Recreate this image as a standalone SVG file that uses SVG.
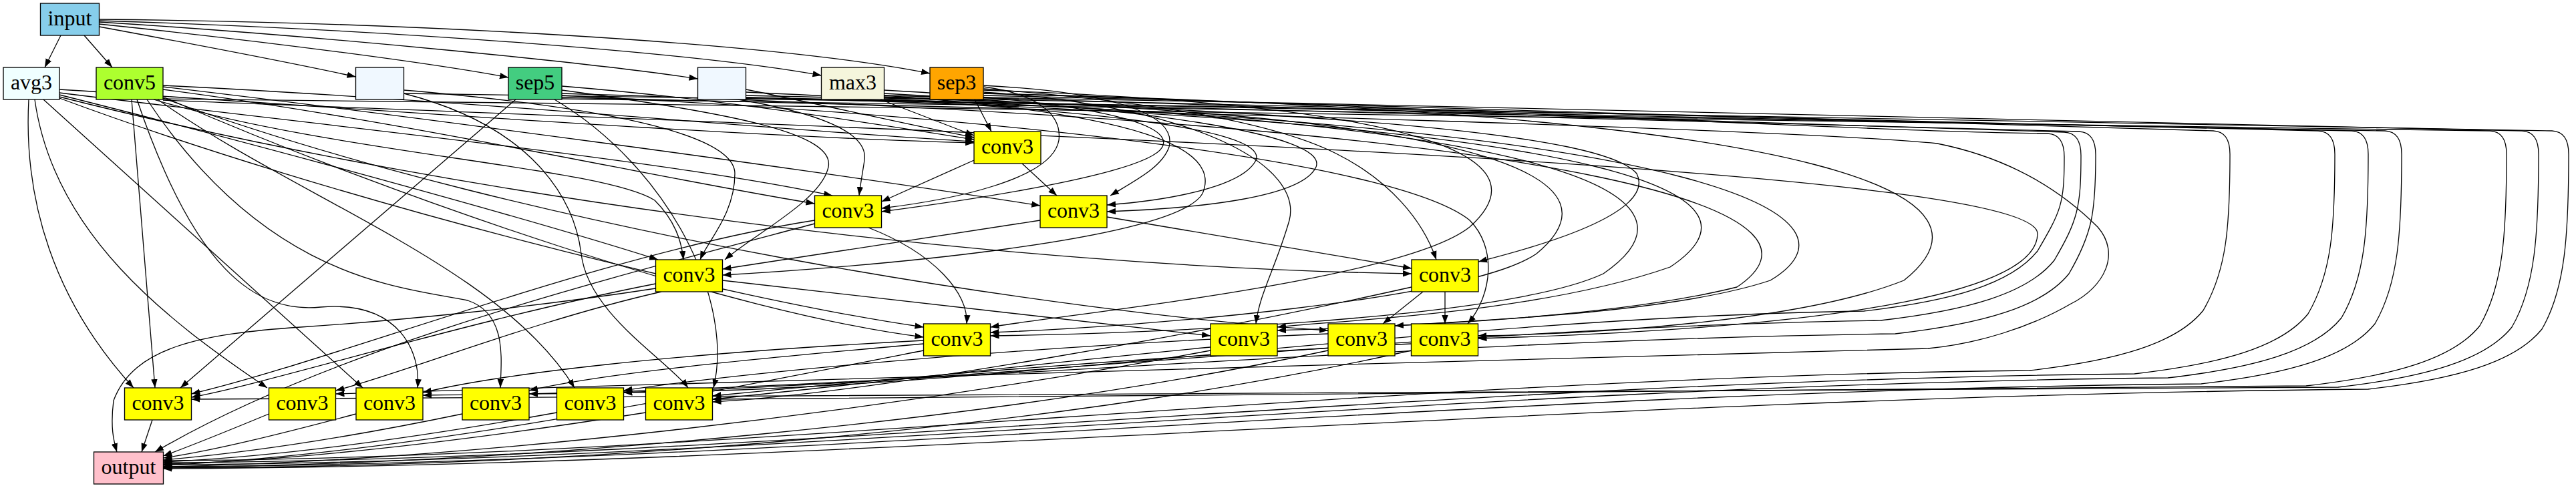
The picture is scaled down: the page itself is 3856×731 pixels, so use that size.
<svg xmlns="http://www.w3.org/2000/svg" width="3856" height="731" viewBox="0 0 3856 731">
<defs>
<marker id="arr" markerWidth="14" markerHeight="10" refX="13" refY="5" orient="auto" markerUnits="userSpaceOnUse"><path d="M0,0.3 L13,5 L0,9.7 z" fill="#000"/></marker>
<style>
.e path{fill:none;stroke:#000;stroke-width:1.3;marker-end:url(#arr)}
.n rect{stroke:#000;stroke-width:1.33}
.n text{font-family:"Liberation Serif","Times New Roman",serif;font-size:32px;text-anchor:middle;fill:#000}
</style>
</defs>
<rect width="3856" height="731" fill="#fff"/>
<g id="edges" class="e">
<path d="M91,53 L67,101"/>
<path d="M126,53 L168,101"/>
<path d="M148.5,40 C300,68 450,97 532.5,115"/>
<path d="M148.5,36 C400,62 650,95 761,116"/>
<path d="M148.5,33 C500,55 900,96 1044.5,118"/>
<path d="M148.5,31 C600,45 1050,80 1229.5,113"/>
<path d="M148.5,29 C600,33 1150,62 1392,110"/>
<path d="M1459,149 L1484,197"/>
<path d="M1318,149 L1458,203"/>
<path d="M1116.5,134 C1200,150 1350,185 1458,206"/>
<path d="M841,129 C1100,150 1350,192 1458,209"/>
<path d="M244,128 C700,150 1200,198 1458,212"/>
<path d="M89,134 C500,160 1100,205 1458,214"/>
<path d="M89,139 C500,190 1000,240 1246,293"/>
<path d="M1105,149 C1230,170 1300,200 1294,240 C1291,260 1288,275 1286,293"/>
<path d="M1458,240 L1319.5,302"/>
<path d="M1472.5,130 C1550,140 1590,170 1585,210 C1575,270 1420,300 1319.5,312"/>
<path d="M1323.5,135 C1600,150 1760,180 1740,220 C1720,260 1450,300 1319.5,317"/>
<path d="M244,134 C600,180 1000,270 1219.5,305"/>
<path d="M1530,245 L1582,293"/>
<path d="M244,130 C600,172 1200,252 1557,308"/>
<path d="M1472.5,128 C1700,140 1760,180 1750,220 C1740,250 1700,270 1662,293"/>
<path d="M1116.5,138 C1600,160 1900,190 1880,240 C1860,280 1750,300 1657,307"/>
<path d="M1323.5,140 C1700,160 1990,200 1970,250 C1950,295 1800,312 1657,317"/>
<path d="M89,142 C400,220 800,330 985,389"/>
<path d="M230,149 C500,230 900,250 980,300 C1010,330 1020,360 1023,389"/>
<path d="M604.5,135 C900,160 1100,200 1100,260 C1100,320 1060,360 1048,389"/>
<path d="M841,135 C1100,170 1250,200 1240,250 C1230,300 1130,350 1085,389"/>
<path d="M1557,330 L1081.5,403"/>
<path d="M1323.5,143 C1700,170 1830,220 1800,290 C1760,360 1300,400 1081.5,412"/>
<path d="M1657,325 L2113,402"/>
<path d="M89,145 C700,300 1500,400 2113,410"/>
<path d="M1472.5,133 C1700,150 1900,180 2000,230 C2080,270 2130,330 2150,389"/>
<path d="M1323.5,145 C2000,170 2400,200 2450,260 C2480,320 2300,370 2213,392"/>
<path d="M89,147 C500,300 1100,450 1382.5,490"/>
<path d="M244,145 C600,300 1100,470 1382.5,505"/>
<path d="M1300,341 C1400,380 1450,440 1447,485"/>
<path d="M1472.5,135 C2200,160 2300,250 2200,340 C2100,420 1600,470 1482.5,490"/>
<path d="M1323.5,147 C2300,170 2420,280 2300,380 C2200,450 1700,490 1482.5,498"/>
<path d="M1116.5,143 C2400,170 2560,300 2400,410 C2250,480 1700,500 1482.5,503"/>
<path d="M1081.5,420 L1812,503"/>
<path d="M1472.5,138 C1800,160 1950,250 1930,330 C1910,400 1885,440 1880,485"/>
<path d="M1116.5,146 C2500,180 2650,300 2500,400 C2300,470 2000,480 1912,490"/>
<path d="M841,140 C2500,190 2750,330 2600,430 C2400,480 2050,490 1912,495"/>
<path d="M2130,437 L2070,485"/>
<path d="M1323.5,150 C2600,190 2800,330 2650,420 C2500,470 2200,480 2088,488"/>
<path d="M244,147 C800,350 1600,470 1988,495"/>
<path d="M2163,437 L2163,485"/>
<path d="M841,143 C1600,180 2100,250 2200,330 C2240,370 2235,440 2197,485"/>
<path d="M1472.5,140 C2800,170 3000,300 2850,420 C2700,480 2400,500 2212.5,503"/>
<path d="M244,150 C1500,200 3050,250 3050,350 C3050,430 2800,490 2212.5,507"/>
<path d="M43,149 C35,300 80,450 200,581"/>
<path d="M197,149 L232,581"/>
<path d="M772,149 L270,581"/>
<path d="M1219.5,330 C900,380 500,540 286.5,590"/>
<path d="M981.5,425 C700,480 400,575 286.5,595"/>
<path d="M52,149 C80,350 250,480 400,581"/>
<path d="M990,437 C800,480 600,560 502.5,585"/>
<path d="M65,149 L543,581"/>
<path d="M205,149 C290,400 380,470 480,460 C600,450 630,530 625,581"/>
<path d="M1382.5,510 C1000,530 750,560 633,588"/>
<path d="M220,149 C400,420 600,430 700,450 C760,470 750,540 749,581"/>
<path d="M1382.5,515 C1100,540 900,560 792,585"/>
<path d="M236,149 C450,300 750,400 860,581"/>
<path d="M1988,500 C1500,520 1100,560 933.5,585"/>
<path d="M830,149 C1000,250 1100,450 1068,581"/>
<path d="M2112.5,515 C1600,540 1200,580 1066.5,593"/>
<path d="M1812,520 C1500,550 1200,585 1066.5,598"/>
<path d="M2113,430 C1800,500 1300,590 1066.5,602"/>
<path d="M604.5,140 C800,190 860,300 870,380 C880,470 1000,540 1030,581"/>
<path d="M228,629 L212,677"/>
<path d="M981.5,432 C800,460 600,480 450,490 C300,500 200,520 170,600 C165,640 170,660 175,677"/>
<path d="M1219.5,335 C900,420 500,520 232,677"/>
<path d="M402.5,620 C330,650 280,670 244.5,683"/>
<path d="M533,620 C420,650 320,675 244.5,686"/>
<path d="M692,620 C500,660 350,680 244.5,689"/>
<path d="M833.5,618 C600,660 400,685 244.5,692"/>
<path d="M966.5,618 C700,660 450,690 244.5,695"/>
<path d="M1382.5,525 C1000,600 600,680 244.5,697"/>
<path d="M1812,525 C1300,620 700,690 244.5,699"/>
<path d="M1988,525 C1500,630 800,695 244.5,700"/>
<path d="M2112.5,525 C1600,640 900,700 244.5,701"/>
<path d="M1472.5,140 C2119.5,158 2790,197 3065,200 C3082,201 3090,212 3090,235 C3090,306 3085,316 3050,376 C3010,426 2920,451 2790,466 C2140,476 1490.5,585 933.5,588"/>
<path d="M1323.5,143 C2040,160 2815,195 3090,198 C3107,199 3115,210 3115,233 C3115,311 3110,330 3075,390 C3035,440 2945,465 2815,480 C2107,490 1399,587 792,590"/>
<path d="M1116.5,146 C1924.5,161 2837,194 3112,197 C3129,198 3137,209 3137,232 C3137,318 3132,350 3097,410 C3057,460 2967,485 2837,500 C2066,510 1294,589 633,592"/>
<path d="M841,146 C1800,168 2700,195 2900,215 C3000,235 3080,280 3140,340 C3175,380 3150,430 3100,455 C3040,490 2960,515 2886,522 C2100,540 1000,580 502.5,590"/>
<path d="M1472.5,143 C2218.7,159 3038,193 3313,196 C3330,197 3338,208 3338,231 C3338,339.6 3333,405 3298,465 C3258,515 3168,540 3038,555 C2060,565 1082.5,687 244.5,690"/>
<path d="M1323.5,146 C2192,161 3195,193 3470,196 C3487,197 3495,208 3495,231 C3495,341.6 3490,410 3455,470 C3415,520 3325,545 3195,560 C2162,570 1129.5,690 244.5,693"/>
<path d="M1116.5,148 C2088,162 3245,193 3520,196 C3537,197 3545,208 3545,231 C3545,344 3540,416 3505,476 C3465,526 3375,551 3245,566 C2195,576 1144.5,693 244.5,696"/>
<path d="M841,148 C1942.6,162 3295,193 3570,196 C3587,197 3595,208 3595,231 C3595,347.6 3590,425 3555,485 C3515,535 3425,560 3295,575 C2227,585 1159.5,696 244.5,699"/>
<path d="M244,148 C1647,162 3452,193 3727,196 C3744,197 3752,208 3752,231 C3752,348.8 3747,428 3712,488 C3672,538 3582,563 3452,578 C2617,588 1782,595 1066.5,598"/>
<path d="M1472.5,146 C2403.5,161 3500,193 3775,196 C3792,197 3800,208 3800,231 C3800,349.6 3795,430 3760,490 C3720,540 3630,565 3500,580 C2375,590 1250.5,595 286.5,598"/>
<path d="M604.5,140 C1900.5,157 3545,193 3820,196 C3837,197 3845,208 3845,231 C3845,350.6 3840,433 3805,493 C3765,543 3675,568 3545,583 C2390,593 1234.5,699 244.5,702"/>
</g>
<g id="input" class="n"><rect x="60.5" y="5" width="88" height="48" fill="#87ceeb"/><text x="104.5" y="38">input</text></g>
<g id="avg3" class="n"><rect x="5" y="101" width="84" height="48" fill="#f0ffff"/><text x="47" y="134">avg3</text></g>
<g id="conv5" class="n"><rect x="144" y="101" width="100" height="48" fill="#adff2f"/><text x="194" y="134">conv5</text></g>
<g id="blank1" class="n"><rect x="532.5" y="101" width="72" height="48" fill="#f0f8ff"/></g>
<g id="sep5" class="n"><rect x="761" y="101" width="80" height="48" fill="#43cd80"/><text x="801" y="134">sep5</text></g>
<g id="blank2" class="n"><rect x="1044.5" y="101" width="72" height="48" fill="#f0f8ff"/></g>
<g id="max3" class="n"><rect x="1229.5" y="101" width="94" height="48" fill="#f5f5dc"/><text x="1276.5" y="134">max3</text></g>
<g id="sep3" class="n"><rect x="1392" y="101" width="80" height="48" fill="#ffa500"/><text x="1432" y="134">sep3</text></g>
<g id="convA" class="n"><rect x="1458" y="197" width="100" height="48" fill="#ffff00"/><text x="1508" y="230">conv3</text></g>
<g id="convB" class="n"><rect x="1219.5" y="293" width="100" height="48" fill="#ffff00"/><text x="1269.5" y="326">conv3</text></g>
<g id="convC" class="n"><rect x="1557" y="293" width="100" height="48" fill="#ffff00"/><text x="1607" y="326">conv3</text></g>
<g id="convD" class="n"><rect x="981.5" y="389" width="100" height="48" fill="#ffff00"/><text x="1031.5" y="422">conv3</text></g>
<g id="convE" class="n"><rect x="2113" y="389" width="100" height="48" fill="#ffff00"/><text x="2163" y="422">conv3</text></g>
<g id="convF" class="n"><rect x="1382.5" y="485" width="100" height="48" fill="#ffff00"/><text x="1432.5" y="518">conv3</text></g>
<g id="convG" class="n"><rect x="1812" y="485" width="100" height="48" fill="#ffff00"/><text x="1862" y="518">conv3</text></g>
<g id="convH" class="n"><rect x="1988" y="485" width="100" height="48" fill="#ffff00"/><text x="2038" y="518">conv3</text></g>
<g id="convI" class="n"><rect x="2112.5" y="485" width="100" height="48" fill="#ffff00"/><text x="2162.5" y="518">conv3</text></g>
<g id="convP1" class="n"><rect x="186.5" y="581" width="100" height="48" fill="#ffff00"/><text x="236.5" y="614">conv3</text></g>
<g id="convP2" class="n"><rect x="402.5" y="581" width="100" height="48" fill="#ffff00"/><text x="452.5" y="614">conv3</text></g>
<g id="convP3" class="n"><rect x="533" y="581" width="100" height="48" fill="#ffff00"/><text x="583" y="614">conv3</text></g>
<g id="convP4" class="n"><rect x="692" y="581" width="100" height="48" fill="#ffff00"/><text x="742" y="614">conv3</text></g>
<g id="convP5" class="n"><rect x="833.5" y="581" width="100" height="48" fill="#ffff00"/><text x="883.5" y="614">conv3</text></g>
<g id="convP6" class="n"><rect x="966.5" y="581" width="100" height="48" fill="#ffff00"/><text x="1016.5" y="614">conv3</text></g>
<g id="output" class="n"><rect x="140.5" y="677" width="104" height="48" fill="#ffc0cb"/><text x="192.5" y="710">output</text></g>
</svg>
